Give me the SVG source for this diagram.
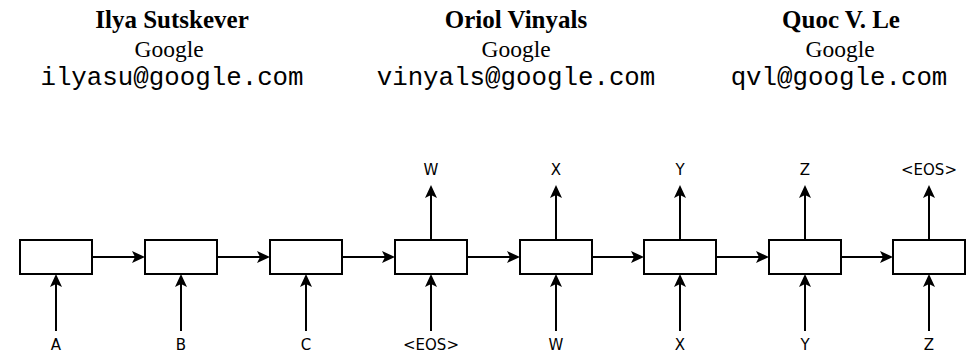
<svg xmlns="http://www.w3.org/2000/svg" width="975" height="353" viewBox="0 0 975 353">
<style>
.name{font-family:"Liberation Serif","Times New Roman",serif;font-weight:bold;font-size:25px;text-anchor:middle;fill:#000}
.aff{font-family:"Liberation Serif","Times New Roman",serif;font-size:23.5px;text-anchor:middle;fill:#000}
.mail{font-family:"Liberation Mono","Courier New",monospace;font-size:25.8px;text-anchor:middle;fill:#000}
.lbl{font-family:"DejaVu Sans",sans-serif;font-size:15px;text-anchor:middle;fill:#000}
.cell{fill:#fff;stroke:#000;stroke-width:2}
.conn line{stroke:#000;stroke-width:2;fill:none;marker-end:url(#ah)}
</style>
<defs>
<marker id="ah" markerUnits="userSpaceOnUse" markerWidth="14" markerHeight="13" refX="10" refY="6.5" orient="auto">
<path d="M0,0.5 L13,6.5 L0,12.5 L3,6.5 z" fill="#000"/>
</marker>
</defs>
<rect width="975" height="353" fill="#fff"/>
<g id="author1">
<text class="name" x="172" y="28">Ilya Sutskever</text>
<text class="aff" x="169" y="57">Google</text>
<text class="mail" x="172" y="85">ilyasu@google.com</text>
</g>
<g id="author2">
<text class="name" x="516" y="28">Oriol Vinyals</text>
<text class="aff" x="516" y="57">Google</text>
<text class="mail" x="516" y="85">vinyals@google.com</text>
</g>
<g id="author3">
<text class="name" x="841" y="28">Quoc V. Le</text>
<text class="aff" x="840" y="57">Google</text>
<text class="mail" x="839" y="85">qvl@google.com</text>
</g>
<g id="cell1"><rect class="cell" x="20" y="240" width="72" height="34"/></g>
<g id="cell2"><rect class="cell" x="145" y="240" width="72" height="34"/></g>
<g id="cell3"><rect class="cell" x="270" y="240" width="72" height="34"/></g>
<g id="cell4"><rect class="cell" x="395" y="240" width="72" height="34"/></g>
<g id="cell5"><rect class="cell" x="520" y="240" width="72" height="34"/></g>
<g id="cell6"><rect class="cell" x="644" y="240" width="72" height="34"/></g>
<g id="cell7"><rect class="cell" x="769" y="240" width="72" height="34"/></g>
<g id="cell8"><rect class="cell" x="893" y="240" width="72" height="34"/></g>
<g id="in-A"><text class="lbl" x="56" y="350">A</text></g>
<g id="in-B"><text class="lbl" x="181" y="350">B</text></g>
<g id="in-C"><text class="lbl" x="306" y="350">C</text></g>
<g id="in-EOS"><text class="lbl" x="431" y="350">&lt;EOS&gt;</text></g>
<g id="in-W"><text class="lbl" x="556" y="350">W</text></g>
<g id="in-X"><text class="lbl" x="680" y="350">X</text></g>
<g id="in-Y"><text class="lbl" x="805" y="350">Y</text></g>
<g id="in-Z"><text class="lbl" x="929" y="350">Z</text></g>
<g id="out-W"><text class="lbl" x="431" y="175">W</text></g>
<g id="out-X"><text class="lbl" x="556" y="175">X</text></g>
<g id="out-Y"><text class="lbl" x="680" y="175">Y</text></g>
<g id="out-Z"><text class="lbl" x="805" y="175">Z</text></g>
<g id="out-EOS"><text class="lbl" x="929" y="175">&lt;EOS&gt;</text></g>
<g id="connectors" class="conn">
<line x1="92" y1="257" x2="142" y2="257"/>
<line x1="217" y1="257" x2="267" y2="257"/>
<line x1="342" y1="257" x2="392" y2="257"/>
<line x1="467" y1="257" x2="517" y2="257"/>
<line x1="592" y1="257" x2="641" y2="257"/>
<line x1="716" y1="257" x2="766" y2="257"/>
<line x1="841" y1="257" x2="890" y2="257"/>
<line x1="56" y1="331" x2="56" y2="277"/>
<line x1="181" y1="331" x2="181" y2="277"/>
<line x1="306" y1="331" x2="306" y2="277"/>
<line x1="431" y1="331" x2="431" y2="277"/>
<line x1="556" y1="331" x2="556" y2="277"/>
<line x1="680" y1="331" x2="680" y2="277"/>
<line x1="805" y1="331" x2="805" y2="277"/>
<line x1="929" y1="331" x2="929" y2="277"/>
<line x1="431" y1="240" x2="431" y2="188"/>
<line x1="556" y1="240" x2="556" y2="188"/>
<line x1="680" y1="240" x2="680" y2="188"/>
<line x1="805" y1="240" x2="805" y2="188"/>
<line x1="929" y1="240" x2="929" y2="188"/>
</g>
</svg>
